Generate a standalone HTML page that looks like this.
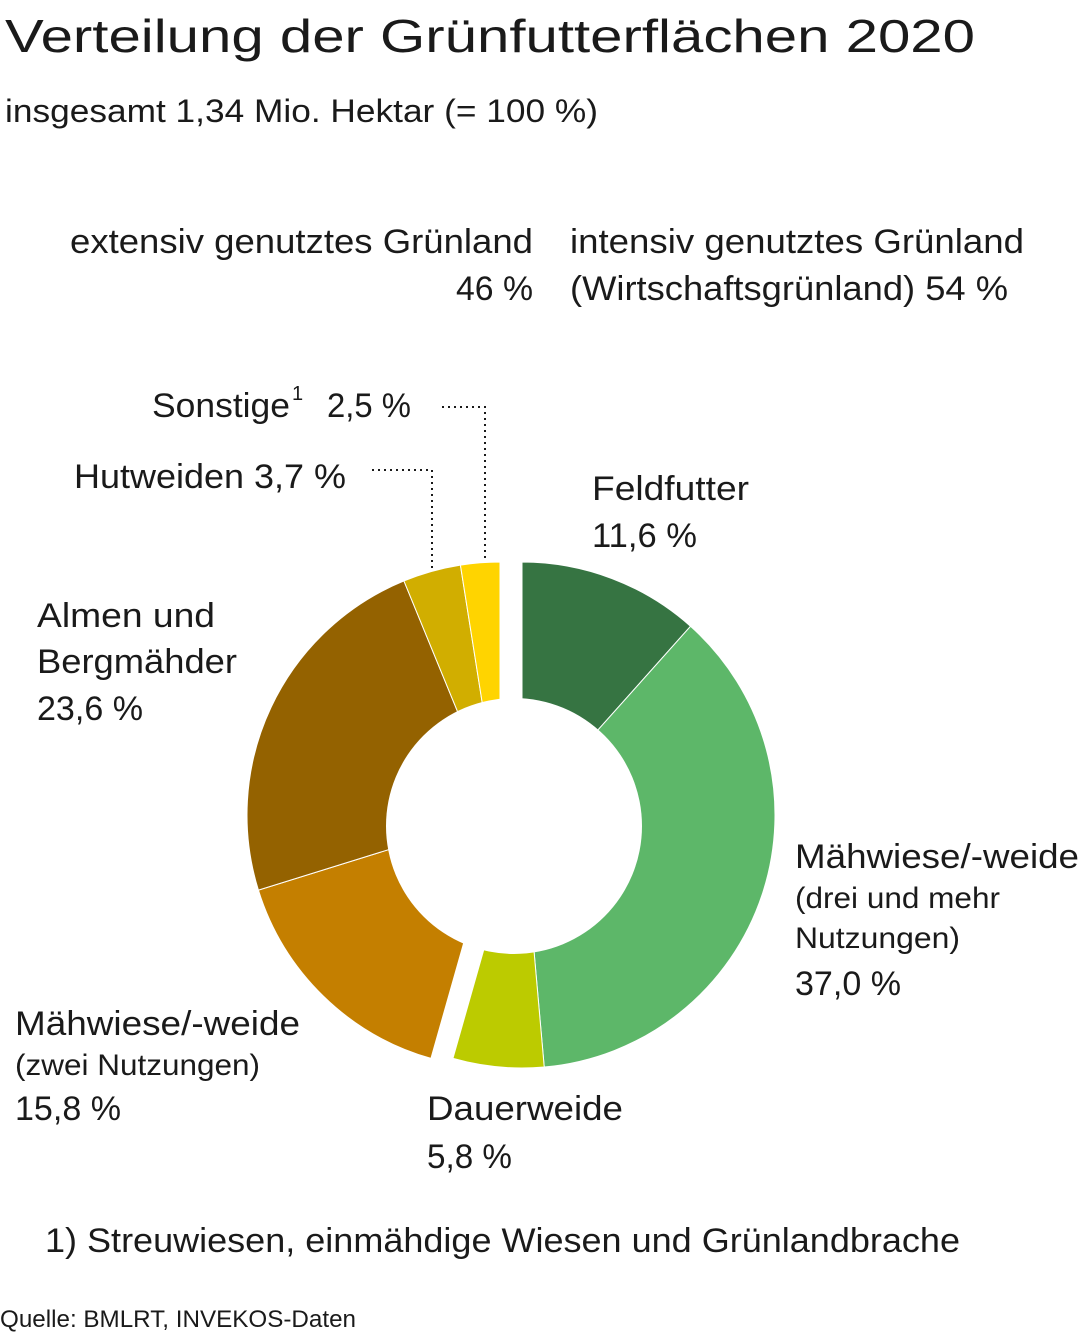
<!DOCTYPE html>
<html><head><meta charset="utf-8">
<style>
html,body{margin:0;padding:0;background:#fff;}
svg{display:block;}
text{font-family:"Liberation Sans",sans-serif;fill:#1a1a1a;}
</style></head>
<body>
<svg id="s" width="1081" height="1335" viewBox="0 0 1081 1335" xmlns="http://www.w3.org/2000/svg">
<g id="pie"></g>
<circle cx="514" cy="826" r="128" fill="#fff"/>
<g stroke="#1a1a1a" stroke-width="2" stroke-dasharray="2,4" fill="none">
<polyline points="442,407 485,407 485,562"/>
<polyline points="372,470 432,470 432,572"/>
</g>
<text x="5" y="52" font-size="46" textLength="970" lengthAdjust="spacingAndGlyphs">Verteilung der Grünfutterflächen 2020</text>
<text x="5" y="122" font-size="32" textLength="593" lengthAdjust="spacingAndGlyphs">insgesamt 1,34 Mio. Hektar (= 100 %)</text>
<text x="70" y="253" font-size="34" textLength="463" lengthAdjust="spacingAndGlyphs">extensiv genutztes Grünland</text>
<text x="456" y="300" font-size="34" textLength="77" lengthAdjust="spacingAndGlyphs">46 %</text>
<text x="570" y="253" font-size="34" textLength="454" lengthAdjust="spacingAndGlyphs">intensiv genutztes Grünland</text>
<text x="570" y="300" font-size="34" textLength="438" lengthAdjust="spacingAndGlyphs">(Wirtschaftsgrünland) 54 %</text>
<text x="152" y="417" font-size="34" textLength="138" lengthAdjust="spacingAndGlyphs">Sonstige</text>
<text x="292" y="400" font-size="20">1</text>
<text x="327" y="417" font-size="34" textLength="84" lengthAdjust="spacingAndGlyphs">2,5 %</text>
<text x="74" y="488" font-size="34" textLength="272" lengthAdjust="spacingAndGlyphs">Hutweiden 3,7 %</text>
<text x="592" y="500" font-size="34" textLength="157" lengthAdjust="spacingAndGlyphs">Feldfutter</text>
<text x="592" y="547" font-size="34" textLength="105" lengthAdjust="spacingAndGlyphs">11,6 %</text>
<text x="37" y="627" font-size="34" textLength="178" lengthAdjust="spacingAndGlyphs">Almen und</text>
<text x="37" y="673" font-size="34" textLength="200" lengthAdjust="spacingAndGlyphs">Bergmähder</text>
<text x="37" y="720" font-size="34" textLength="106" lengthAdjust="spacingAndGlyphs">23,6 %</text>
<text x="795" y="868" font-size="34" textLength="284" lengthAdjust="spacingAndGlyphs">Mähwiese/-weide</text>
<text x="795" y="908" font-size="30" textLength="205" lengthAdjust="spacingAndGlyphs">(drei und mehr</text>
<text x="795" y="948" font-size="30" textLength="165" lengthAdjust="spacingAndGlyphs">Nutzungen)</text>
<text x="795" y="995" font-size="34" textLength="106" lengthAdjust="spacingAndGlyphs">37,0 %</text>
<text x="15" y="1035" font-size="34" textLength="285" lengthAdjust="spacingAndGlyphs">Mähwiese/-weide</text>
<text x="15" y="1075" font-size="30" textLength="245" lengthAdjust="spacingAndGlyphs">(zwei Nutzungen)</text>
<text x="15" y="1120" font-size="34" textLength="106" lengthAdjust="spacingAndGlyphs">15,8 %</text>
<text x="427" y="1120" font-size="34" textLength="196" lengthAdjust="spacingAndGlyphs">Dauerweide</text>
<text x="427" y="1168" font-size="34" textLength="85" lengthAdjust="spacingAndGlyphs">5,8 %</text>
<text x="45" y="1252" font-size="34" textLength="915" lengthAdjust="spacingAndGlyphs">1) Streuwiesen, einmähdige Wiesen und Grünlandbrache</text>
<text x="0" y="1327" font-size="24" textLength="356" lengthAdjust="spacingAndGlyphs">Quelle: BMLRT, INVEKOS-Daten</text>
</svg>
<script>
(function(){
var g=document.getElementById('pie');
function pt(cx,cy,r,a){var t=a*Math.PI/180;return [cx+r*Math.sin(t),cy-r*Math.cos(t)];}
function wedge(cx,cy,r,a0,a1,col){
 var p0=pt(cx,cy,r,a0),p1=pt(cx,cy,r,a1),lg=(a1-a0)>180?1:0;
 var d='M'+cx+','+cy+' L'+p0[0].toFixed(2)+','+p0[1].toFixed(2)+' A'+r+','+r+' 0 '+lg+' 1 '+p1[0].toFixed(2)+','+p1[1].toFixed(2)+' Z';
 var e=document.createElementNS('http://www.w3.org/2000/svg','path');
 e.setAttribute('d',d);e.setAttribute('fill',col);e.setAttribute('stroke','#fff');e.setAttribute('stroke-width','1');g.appendChild(e);
}
var k=3.6,a=0;
[[11.6,'#367442'],[37.0,'#5db769'],[5.8,'#bccb00']].forEach(function(s){wedge(522,815,253,a,a+s[0]*k,s[1]);a+=s[0]*k;});
a=360-45.6*k;
[[15.8,'#c47f00'],[23.6,'#946200'],[3.7,'#d1ae00'],[2.5,'#ffd400']].forEach(function(s){wedge(500,815,253,a,a+s[0]*k,s[1]);a+=s[0]*k;});
})();
</script>
</body></html>
